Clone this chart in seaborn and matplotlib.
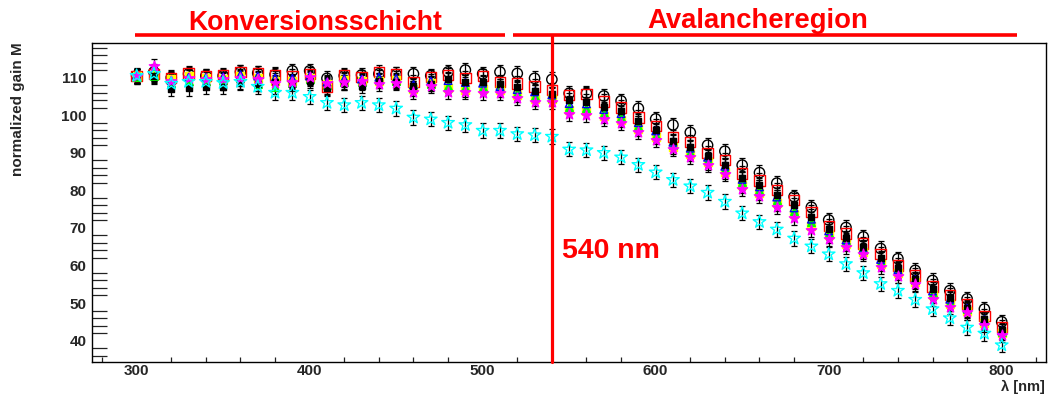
import numpy as np
import pandas as pd
import matplotlib
matplotlib.use("Agg")
import matplotlib.pyplot as plt
import seaborn as sns
from matplotlib.lines import Line2D
from matplotlib.ticker import MultipleLocator

# ---------------- data ----------------
wavelength = [300, 310, 320, 330, 340, 350, 360, 370, 380, 390,
              400, 410, 420, 430, 440, 450, 460, 470, 480, 490,
              500, 510, 520, 530, 540, 550, 560, 570, 580, 590,
              600, 610, 620, 630, 640, 650, 660, 670, 680, 690,
              700, 710, 720, 730, 740, 750, 760, 770, 780, 790, 800]

gain_black_circle = [110.5, 111.5, 110.0, 111.0, 110.5, 110.5, 111.5, 111.2, 110.8, 111.8,
                     111.8, 109.8, 110.5, 110.7, 111.0, 110.8, 111.0, 110.5, 111.5, 112.0,
                     111.0, 111.5, 111.1, 109.8, 109.5, 105.8, 105.8, 105.1, 103.8, 101.8,
                     99.0, 97.4, 95.4, 92.0, 90.4, 86.7, 84.7, 81.9, 78.3, 75.5,
                     72.1, 70.1, 67.6, 64.5, 61.8, 58.7, 56.0, 53.3, 51.1, 48.4, 45.0]

gain_red_square = [110.5, 111.0, 109.8, 111.1, 110.5, 110.7, 111.5, 111.3, 110.7, 110.5,
                   111.0, 107.6, 110.7, 110.2, 111.5, 110.9, 108.9, 110.2, 110.7, 109.8,
                   110.4, 108.9, 108.4, 107.6, 106.7, 105.3, 105.6, 103.6, 102.0, 99.4,
                   97.1, 94.2, 92.9, 90.0, 88.1, 84.5, 82.6, 80.1, 77.4, 74.3,
                   70.5, 68.5, 65.8, 63.1, 60.0, 57.3, 54.4, 52.2, 49.7, 46.6, 43.6]

gain_black_filled = [110.3, 110.5, 106.9, 107.1, 107.5, 107.6, 108.5, 108.2, 108.8, 108.4,
                     109.0, 107.3, 108.5, 107.8, 109.2, 108.8, 107.7, 108.3, 109.7, 108.9,
                     108.8, 108.2, 107.4, 106.5, 105.6, 103.9, 103.6, 102.1, 101.2, 98.4,
                     96.0, 93.1, 91.5, 89.2, 86.6, 83.2, 81.3, 78.7, 76.0, 73.0,
                     69.6, 67.3, 64.9, 62.0, 59.2, 56.4, 53.6, 51.4, 48.8, 45.8, 42.8]

gain_blue_triangle = [110.6, 111.8, 109.2, 110.1, 110.0, 110.2, 110.8, 110.4, 109.9, 109.8,
                      110.4, 108.8, 109.7, 109.6, 110.1, 109.8, 108.1, 109.1, 109.2, 108.7,
                      108.5, 107.6, 106.8, 106.2, 105.4, 103.1, 103.0, 101.5, 100.4, 98.0,
                      95.8, 92.8, 91.2, 88.8, 86.4, 82.9, 80.9, 78.2, 75.3, 72.3,
                      69.2, 66.8, 64.5, 61.6, 58.9, 56.3, 53.2, 51.0, 48.6, 45.6, 42.6]

gain_green_triangle = [110.2, 110.3, 108.5, 109.2, 109.1, 109.4, 109.9, 108.3, 107.6, 108.6,
                       109.6, 108.1, 108.9, 108.7, 109.3, 109.1, 107.3, 108.4, 107.8, 107.4,
                       107.6, 107.1, 105.9, 105.2, 104.6, 102.2, 102.0, 100.7, 99.5, 97.2,
                       94.8, 92.1, 90.3, 88.0, 85.7, 82.1, 80.1, 77.3, 74.5, 71.5,
                       68.6, 66.4, 64.1, 61.0, 58.5, 56.0, 52.7, 50.4, 48.3, 45.1, 42.4]

gain_yellow_square = [110.4, 110.8, 109.6, 110.3, 109.8, 109.7, 110.4, 109.8, 109.2, 109.1,
                      109.9, 108.3, 109.3, 109.2, 109.0, 109.4, 106.9, 108.6, 107.3, 106.6,
                      107.0, 106.7, 105.3, 104.4, 104.2, 101.4, 101.2, 99.8, 98.7, 96.4,
                      94.1, 91.5, 89.6, 87.4, 85.0, 81.3, 79.3, 76.5, 73.6, 70.6,
                      68.0, 65.8, 63.6, 60.4, 58.0, 55.6, 52.0, 49.8, 47.9, 44.7, 42.0]

gain_magenta_star = [110.5, 113.0, 109.0, 110.0, 109.5, 109.5, 110.0, 109.5, 108.5, 108.9,
                     110.2, 108.5, 108.7, 109.0, 108.4, 108.6, 106.2, 107.7, 106.2, 106.2,
                     106.0, 106.0, 104.5, 103.6, 103.6, 100.3, 100.1, 99.1, 98.0, 95.6,
                     93.3, 90.9, 88.8, 86.7, 84.3, 80.3, 78.5, 75.6, 72.6, 69.5,
                     67.0, 64.9, 63.0, 59.6, 57.3, 55.1, 51.1, 49.0, 47.5, 44.2, 41.5]

gain_cyan_star = [110.5, 111.0, 108.4, 108.9, 108.9, 108.6, 108.9, 107.6, 106.0, 106.0,
                  104.9, 103.3, 102.7, 103.3, 102.7, 101.8, 99.4, 98.9, 98.0, 97.4,
                  95.9, 95.9, 95.0, 94.7, 94.3, 90.9, 90.7, 90.0, 88.8, 86.8,
                  84.8, 82.8, 81.1, 79.4, 77.0, 73.9, 71.6, 69.6, 67.2, 65.1,
                  63.0, 60.4, 58.0, 55.1, 53.3, 50.9, 48.4, 46.0, 43.5, 41.9, 38.8]

gain_error = 1.9
boundary_nm = 540

x_ticks = [300, 400, 500, 600, 700, 800]
y_ticks = [40, 50, 60, 70, 80, 90, 100, 110]

# series: (values, marker, size, face, edge)
series = [
    (gain_black_circle, "o", 55, "none", "black"),
    (gain_red_square, "s", 55, "none", "red"),
    (gain_yellow_square, "s", 30, "#ffff00", "#ffff00"),
    (gain_green_triangle, "^", 30, "#00ff00", "#00ff00"),
    (gain_blue_triangle, "^", 30, "none", "#0000ff"),
    (gain_black_filled, "s", 14, "black", "black"),
    (gain_magenta_star, "*", 60, "#ff00ff", "#ff00ff"),
    (gain_cyan_star, "*", 90, "none", "#00ffff"),
]

# ---------------- figure ----------------
sns.set_style("white")
plt.rcParams["font.family"] = ["Liberation Sans", "DejaVu Sans"]

W, H = 1048, 398
fig = plt.figure(figsize=(W / 100, H / 100), dpi=100)
ax = fig.add_axes([92 / W, 1 - 362 / H, (1046 - 92) / W, (362 - 43) / H])

for vals, mk, sz, fc, ec in series:
    ax.errorbar(wavelength, vals, yerr=gain_error, fmt="none", ecolor="black",
                elinewidth=0.9, capsize=2.0, capthick=0.9, zorder=2)
    sns.scatterplot(x=wavelength, y=vals, marker=mk, s=sz, color=ec,
                    facecolor=fc, edgecolor=ec, linewidth=1.0, ax=ax, zorder=3,
                    legend=False)

ax.set_xlim(274.2, 825.6)
ax.set_ylim(34.3, 119.2)
ax.set_xticks(x_ticks)
ax.set_yticks(y_ticks)
ax.xaxis.set_minor_locator(MultipleLocator(20))
ax.yaxis.set_minor_locator(MultipleLocator(2))
ax.tick_params(axis="y", which="major", direction="in", length=21.5, width=0.9,
               color="#222222", labelsize=11, pad=4)
ax.tick_params(axis="y", which="minor", direction="in", length=10.8, width=0.9,
               color="#222222", left=True)
ax.tick_params(axis="x", which="major", direction="in", length=7, width=0.9,
               color="#222222", labelsize=11, pad=1.2)
ax.tick_params(axis="x", which="minor", direction="in", length=3.8, width=0.9,
               color="#222222", bottom=True)
for lab in ax.get_xticklabels() + ax.get_yticklabels():
    lab.set_fontweight("bold")
for sp in ax.spines.values():
    sp.set_color("black")
    sp.set_linewidth(1.0)
ax.set_xlabel("")
ax.set_ylabel("")

# vertical boundary line (extends above the frame)
ax.plot([boundary_nm, boundary_nm], [34.3, 121.4], color="red", lw=2.3,
        clip_on=False, zorder=5)

# top red bar with small gap
for x0, x1 in [(135, 505), (513, 1017)]:
    fig.add_artist(Line2D([x0 / W, x1 / W], [1 - 35 / H, 1 - 35 / H],
                          color="red", lw=2.6, solid_capstyle="butt"))

fig.text(188 / W, 1 - 30 / H, "Konversionsschicht", color="red",
         fontsize=19.2, fontweight="bold", va="baseline", ha="left")
fig.text(647 / W, 1 - 28 / H, "Avalancheregion", color="red",
         fontsize=19.8, fontweight="bold", va="baseline", ha="left")
fig.text(562 / W, 1 - 258 / H, "540 nm", color="red", fontsize=20.5,
         fontweight="bold", va="baseline", ha="left")

fig.text(18 / W, 1 - 42 / H, "normalized gain M", rotation=90, ha="center",
         va="top", fontsize=11, fontweight="bold")
fig.text(1045 / W, 1 - 387 / H, "λ [nm]", ha="right", va="center",
         fontsize=10.5, fontweight="bold")

fig.savefig("out.png", dpi=100, facecolor="white")
